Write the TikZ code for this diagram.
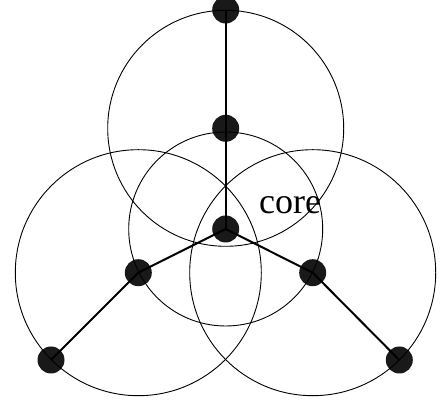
\documentclass[tikz,border=0pt]{standalone}
\usepackage{fontspec}
\setmainfont{Liberation Serif}
\tikzset{
  dot/.style={circle, fill=black!90, inner sep=0pt, minimum size=27pt},
  ring/.style={line width=0.9pt},
  spoke/.style={line width=2pt}
}
\begin{document}
\begin{tikzpicture}[x=1pt, y=1pt]
    \useasboundingbox (0,0) rectangle (444,406);
    % Nodes
    \node[dot] (core) at (225.7,177) {};
    \node[dot] (topmid) at (225.7,277.7) {};
    \node[dot] (top) at (225.7,396) {};
    \node[dot] (leftmid) at (138.3,133.3) {};
    \node[dot] (rightmid) at (312.7,133.3) {};
    \node[dot] (left) at (51,46) {};
    \node[dot] (right) at (399.3,46) {};
    \node[anchor=base west, inner sep=0pt, font=\fontsize{36}{40}\selectfont] (lbl) at (259,192) {core};
    % Circles
    \draw[ring] (core.center) circle[radius=97];
    \draw[ring] (topmid.center) circle[radius=118];
    \draw[ring] (leftmid.center) circle[radius=123];
    \draw[ring] (rightmid.center) circle[radius=123];
    % Spokes
    \draw[spoke] (top.center) -- (topmid.center) -- (core.center);
    \draw[spoke] (core.center) -- (leftmid.center) -- (left.center);
    \draw[spoke] (core.center) -- (rightmid.center) -- (right.center);
\end{tikzpicture}
\end{document}
